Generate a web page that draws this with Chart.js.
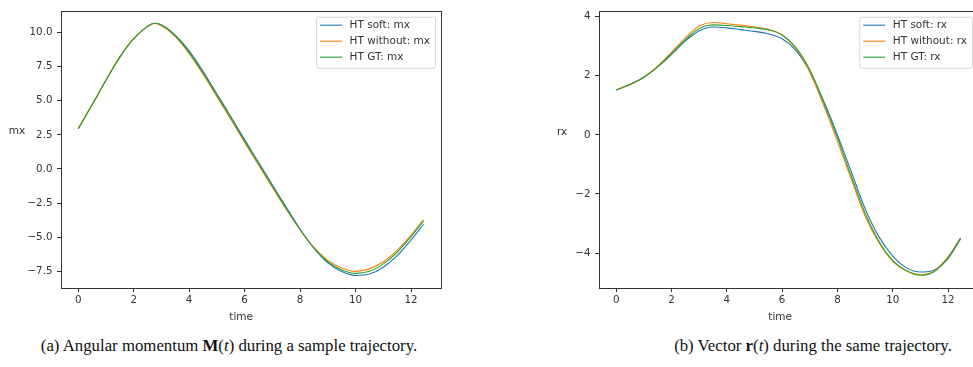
<!DOCTYPE html>
<html lang="en">
<head>
  <meta charset="UTF-8">
  <title>HT trajectories</title>
  <script src="https://cdn.jsdelivr.net/npm/chart.js"></script>
  <style>
    html, body { margin:0; padding:0; background:#fff; overflow:hidden; }
    body { width:973px; height:367px; position:relative; }
    canvas { position:absolute; top:0; }
    #chartM { left:0; }
    #chartR { left:540px; }
    .caption {
      position:absolute; top:336px; white-space:nowrap; transform:translateX(-50%);
      font-family:'Liberation Serif','DejaVu Serif',serif; font-size:16.8px; color:#111;
    }
  </style>
</head>
<body>
  <canvas id="chartM" width="460" height="323"></canvas>
  <canvas id="chartR" width="460" height="323"></canvas>
  <div class="caption" style="left:229px">(a) Angular momentum <b>M</b>(<i>t</i>) during a sample trajectory.</div>
  <div class="caption" style="left:813px">(b) Vector <b>r</b>(<i>t</i>) during the same trajectory.</div>

  <script>
    // shared time axis
    const times = [0, 0.5, 1, 1.5, 2, 2.5, 2.75, 3, 3.5, 4, 4.5, 5, 5.5, 6, 6.5, 7, 7.5, 8, 8.5, 9, 9.5, 10, 10.5, 11, 11.5, 12, 12.45];
    const xTicks = [0, 2, 4, 6, 8, 10, 12];

    // (a) angular momentum, x component
    const mxSoft    = [2.95, 4.7, 6.5, 8.2, 9.55, 10.45, 10.68, 10.57, 9.8, 8.65, 7.15, 5.5, 3.85, 2.15, 0.5, -1.15, -2.8, -4.4, -5.8, -6.88, -7.52, -7.8, -7.7, -7.2, -6.35, -5.2, -4.05];
    const mxWithout = [2.95, 4.7, 6.5, 8.2, 9.55, 10.45, 10.66, 10.5, 9.7, 8.45, 6.95, 5.3, 3.65, 1.95, 0.3, -1.35, -2.95, -4.45, -5.75, -6.7, -7.25, -7.5, -7.32, -6.8, -5.95, -4.85, -3.7];
    const mxGT      = [2.95, 4.7, 6.5, 8.2, 9.55, 10.45, 10.68, 10.55, 9.75, 8.55, 7.05, 5.4, 3.75, 2.05, 0.4, -1.25, -2.9, -4.45, -5.8, -6.8, -7.4, -7.65, -7.5, -6.95, -6.1, -4.95, -3.8];
    const mxTicks   = [-7.5, -5, -2.5, 0, 2.5, 5, 7.5, 10];

    // (b) vector r, x component
    const rxSoft    = [1.52, 1.7, 1.95, 2.3, 2.72, 3.17, 3.36, 3.52, 3.65, 3.62, 3.56, 3.5, 3.42, 3.25, 2.85, 2.15, 1.15, 0.0, -1.25, -2.5, -3.45, -4.1, -4.5, -4.64, -4.57, -4.18, -3.52];
    const rxWithout = [1.52, 1.7, 1.95, 2.32, 2.8, 3.28, 3.5, 3.68, 3.8, 3.76, 3.71, 3.65, 3.57, 3.38, 2.92, 2.12, 1.0, -0.22, -1.5, -2.75, -3.65, -4.28, -4.6, -4.73, -4.6, -4.12, -3.48];
    const rxGT      = [1.52, 1.7, 1.95, 2.3, 2.75, 3.22, 3.42, 3.6, 3.72, 3.7, 3.66, 3.62, 3.55, 3.38, 2.95, 2.2, 1.1, -0.1, -1.4, -2.65, -3.6, -4.25, -4.6, -4.75, -4.62, -4.15, -3.5];
    const rxTicks   = [-4, -2, 0, 2, 4];

    const seriesNames = ['HT soft', 'HT without', 'HT GT'];
    const colors = ['#1f77b4', '#ff7f0e', '#2ca02c'];

    const FONT = "'DejaVu Sans', sans-serif";
    const TEXT = '#333';
    const minus = s => s.replace('-', '\u2212');

    // frame, axis names and legend, drawn the matplotlib way
    const decorPlugin = {
      id: 'decor',
      afterDraw(chart, args, o) {
        const { ctx, chartArea: a } = chart;
        ctx.save();
        ctx.strokeStyle = '#333';
        ctx.lineWidth = 1;
        ctx.strokeRect(Math.round(a.left) + 0.5, Math.round(a.top) + 0.5,
                       Math.round(a.right - a.left), Math.round(a.bottom - a.top));

        ctx.fillStyle = TEXT;
        ctx.font = '10.5px ' + FONT;
        ctx.textAlign = 'center';
        ctx.textBaseline = 'middle';
        ctx.fillText(o.yName, a.left + o.yNameDx, o.yNameY);
        ctx.fillText('time', a.left + (a.right - a.left) * o.xNameFrac, o.xNameY);

        // legend box
        const labels = seriesNames.map(n => n + ': ' + o.yName);
        const tw = Math.max(...labels.map(t => ctx.measureText(t).width));
        const w = 4 + 22 + 7.5 + tw + 5, h = 51;
        const x0 = a.right - 6 - w, y0 = a.top + 6;
        ctx.beginPath();
        ctx.roundRect(x0 + 0.5, y0 + 0.5, w, h, 2);
        ctx.fillStyle = 'rgba(255,255,255,0.8)';
        ctx.fill();
        ctx.strokeStyle = '#d6d6d6';
        ctx.stroke();
        labels.forEach((t, i) => {
          const cy = y0 + 8.5 + i * 16;
          ctx.strokeStyle = colors[i];
          ctx.lineWidth = 1.1;
          ctx.beginPath();
          ctx.moveTo(x0 + 4, cy);
          ctx.lineTo(x0 + 26, cy);
          ctx.stroke();
          ctx.fillStyle = TEXT;
          ctx.textAlign = 'left';
          ctx.fillText(t, x0 + 33.5, cy);
        });
        ctx.restore();
      }
    };

    function makeChart(id, ys, yTicks, yMin, yMax, digits, decor, yAxisWidth, padRight) {
      return new Chart(document.getElementById(id), {
        type: 'line',
        data: {
          datasets: ys.map((arr, i) => ({
            label: seriesNames[i],
            data: times.map((t, k) => ({ x: t, y: arr[k] })),
            borderColor: colors[i],
            borderWidth: 1.1,
            pointRadius: 0,
            fill: false,
            cubicInterpolationMode: 'monotone',
            order: 3 - i
          }))
        },
        options: {
          responsive: false,
          animation: false,
          layout: { padding: { left: 0, top: 5, right: padRight, bottom: 0 } },
          scales: {
            x: {
              type: 'linear',
              min: -0.62, max: 13.08,
              afterBuildTicks: s => { s.ticks = xTicks.map(v => ({ value: v })); },
              afterFit: s => { s.height = 35; },
              ticks: { callback: v => String(v), color: TEXT, font: { family: FONT, size: 10.3 },
                       padding: 2, maxRotation: 0, autoSkip: false },
              grid: { display: true, drawOnChartArea: false, drawTicks: true, tickLength: 4, tickColor: '#333' },
              border: { display: false }
            },
            y: {
              type: 'linear',
              min: yMin, max: yMax,
              afterBuildTicks: s => { s.ticks = yTicks.map(v => ({ value: v })); },
              afterFit: s => { s.width = yAxisWidth; },
              ticks: { callback: v => minus(v.toFixed(digits)), color: TEXT, font: { family: FONT, size: 10.3 },
                       padding: 4.5, autoSkip: false },
              grid: { display: true, drawOnChartArea: false, drawTicks: true, tickLength: 4, tickColor: '#333' },
              border: { display: false }
            }
          },
          plugins: {
            legend: { display: false },
            tooltip: { enabled: false },
            decor
          }
        },
        plugins: [decorPlugin]
      });
    }

    makeChart('chartM', [mxSoft, mxWithout, mxGT], mxTicks, -8.72, 11.6, 1,
      { yName: 'mx', yNameDx: -44, yNameY: 131, xNameFrac: 0.474, xNameY: 317 }, 61, 19);
    makeChart('chartR', [rxSoft, rxWithout, rxGT], rxTicks, -5.18, 4.2, 0,
      { yName: 'rx', yNameDx: -37, yNameY: 132, xNameFrac: 0.478, xNameY: 317 }, 59, 22);
  </script>
</body>
</html>
